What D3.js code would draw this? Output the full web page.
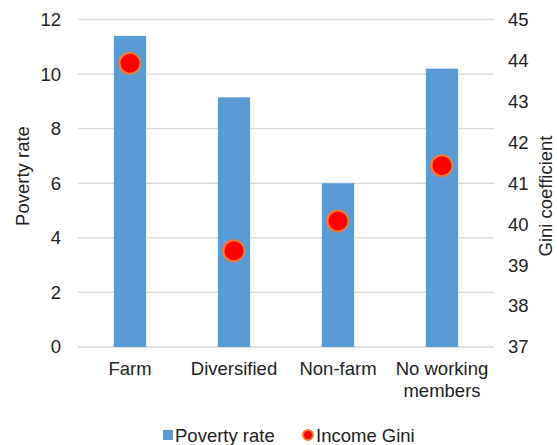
<!DOCTYPE html>
<html>
<head>
<meta charset="utf-8">
<script src="https://cdn.jsdelivr.net/npm/d3@7"></script>
<style>
  html, body { margin: 0; padding: 0; background: #fff; }
  svg { display: block; font-family: "Liberation Sans", Arial, sans-serif; }
</style>
</head>
<body>
<svg id="chart" width="557" height="445"></svg>
<script>
// Household livelihood groups
const categories = ["Farm", "Diversified", "Non-farm", "No working members"];
const povertyRate = [11.4, 9.15, 6.0, 10.2];
const incomeGini = [43.93, 39.35, 40.08, 41.43];
const leftTicks = [0, 2, 4, 6, 8, 10, 12];
const rightTicks = [37, 38, 39, 40, 41, 42, 43, 44, 45];

const svg = d3.select("#chart");
const m = { left: 78, right: 494, top: 19.5, bottom: 347 };
const fs = 18.5;

const x = d3.scaleBand().domain(categories).range([m.left, m.right]).paddingInner(0.69).paddingOuter(0.345);
const yL = d3.scaleLinear().domain([0, 12]).range([m.bottom, m.top]);
const yR = d3.scaleLinear().domain([37, 45]).range([m.bottom, m.top]);

const barColor = "#5b9bd5";
const dotFill = "#ff0000";
const dotStroke = "#ed7d31";
const textColor = "#222";

// gridlines
svg.append("g").selectAll("line").data(leftTicks).join("line")
  .attr("x1", m.left).attr("x2", m.right)
  .attr("y1", d => yL(d)).attr("y2", d => yL(d))
  .attr("stroke", "#d9d9d9").attr("stroke-width", 1.3);

// left axis
const axL = svg.append("g").attr("transform", `translate(${m.left - 17},0)`)
  .call(d3.axisLeft(yL).tickValues(leftTicks).tickSize(0).tickPadding(0));
axL.select(".domain").remove();
axL.selectAll("text").attr("font-size", fs).attr("fill", textColor)
  .attr("font-family", "Liberation Sans, Arial, sans-serif");

// right axis
const axR = svg.append("g").attr("transform", `translate(${m.right + 14},0)`)
  .call(d3.axisRight(yR).tickValues(rightTicks).tickSize(0).tickPadding(0));
axR.select(".domain").remove();
axR.selectAll("text").attr("font-size", fs).attr("fill", textColor)
  .attr("font-family", "Liberation Sans, Arial, sans-serif");

// bars
svg.append("g").selectAll("rect").data(categories).join("rect")
  .attr("x", d => x(d)).attr("width", x.bandwidth())
  .attr("y", (d, i) => yL(povertyRate[i]))
  .attr("height", (d, i) => yL(0) - yL(povertyRate[i]))
  .attr("fill", barColor);

// Gini markers
svg.append("g").selectAll("circle").data(categories).join("circle")
  .attr("cx", d => x(d) + x.bandwidth() / 2)
  .attr("cy", (d, i) => yR(incomeGini[i]))
  .attr("r", 10.5)
  .attr("fill", dotFill).attr("stroke", dotStroke).attr("stroke-width", 2);

// category labels
const catLines = { "No working members": ["No working", "members"] };
const cat = svg.append("g");
categories.forEach(c => {
  const lines = catLines[c] || [c];
  const t = cat.append("text")
    .attr("x", x(c) + x.bandwidth() / 2).attr("y", 375)
    .attr("text-anchor", "middle").attr("font-size", fs).attr("fill", textColor);
  lines.forEach((l, i) => t.append("tspan").attr("x", x(c) + x.bandwidth() / 2).attr("dy", i ? 21.5 : 0).text(l));
});

// axis titles
svg.append("text").attr("transform", "translate(29,176) rotate(-90)")
  .attr("text-anchor", "middle").attr("font-size", fs).attr("fill", textColor).text("Poverty rate");
svg.append("text").attr("transform", "translate(552,196) rotate(-90)")
  .attr("text-anchor", "middle").attr("font-size", fs).attr("fill", textColor).text("Gini coefficient");

// legend
const lg = svg.append("g");
lg.append("rect").attr("x", 163).attr("y", 430).attr("width", 10).attr("height", 10).attr("fill", barColor);
lg.append("text").attr("x", 175).attr("y", 442).attr("font-size", fs).attr("fill", textColor).text("Poverty rate");
lg.append("circle").attr("cx", 308).attr("cy", 435).attr("r", 5).attr("fill", dotFill).attr("stroke", dotStroke).attr("stroke-width", 2);
lg.append("text").attr("x", 316).attr("y", 442).attr("font-size", fs).attr("fill", textColor).text("Income Gini");
</script>
</body>
</html>
